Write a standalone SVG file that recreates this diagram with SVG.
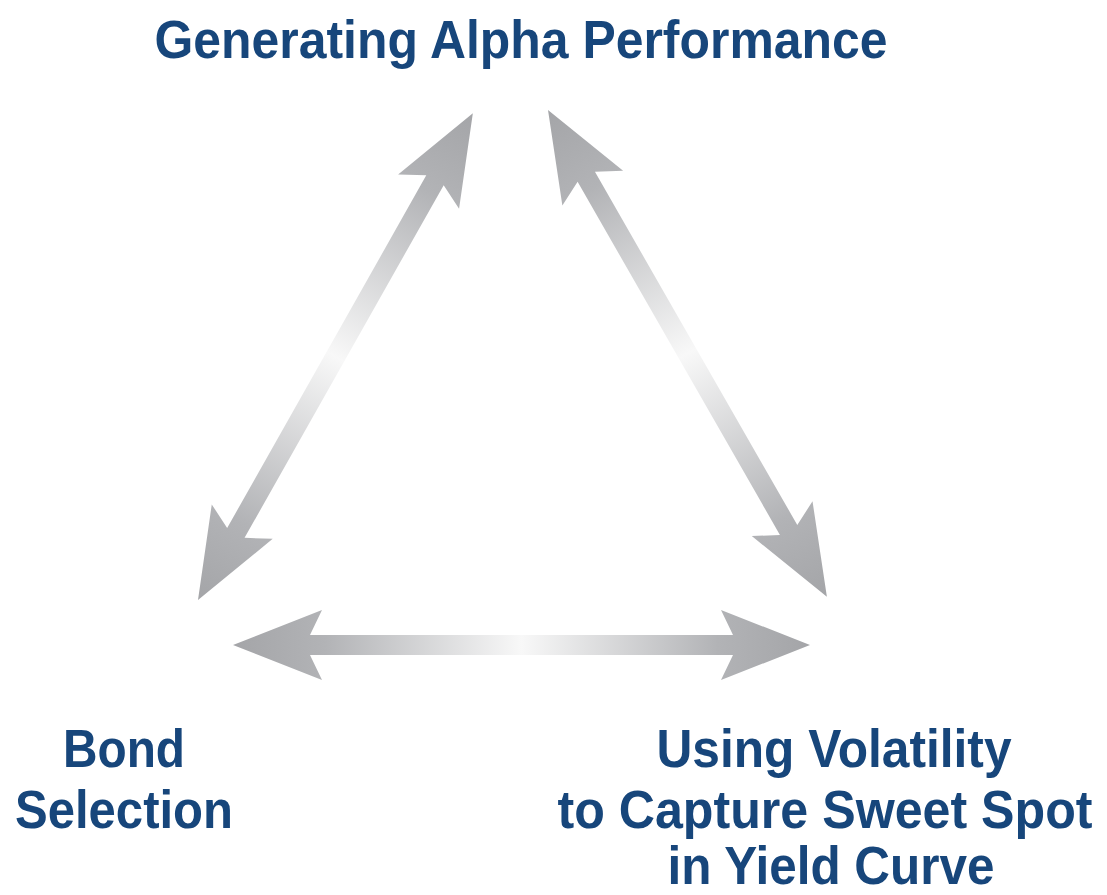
<svg xmlns="http://www.w3.org/2000/svg" width="1107" height="895" viewBox="0 0 1107 895">
  <style>
    .lbl { font-family: "Liberation Sans", Arial, sans-serif; font-weight: bold; font-size: 54px; fill: #17467b; text-anchor: middle; }
    .arw { fill: url(#arrowGrad); }
  </style>
  <defs>
    <linearGradient id="arrowGrad" x1="0" y1="0" x2="1" y2="0">
      <stop offset="0" stop-color="#a4a5a8"/>
      <stop offset="0.16" stop-color="#b2b3b6"/>
      <stop offset="0.5" stop-color="#f8f8f8"/>
      <stop offset="0.84" stop-color="#b2b3b6"/>
      <stop offset="1" stop-color="#a4a5a8"/>
    </linearGradient>
  </defs>
  <rect width="1107" height="895" fill="#ffffff"/>

  <g id="connectors">
    <path id="arrow-left" class="arw" transform="translate(198,600) rotate(-60.55)"
      d="M0,0 L90,-35 L77,-10 L482,-10 L469,-35 L559,0 L469,35 L482,10 L77,10 L90,35 Z"/>
    <path id="arrow-right" class="arw" transform="translate(548,110) rotate(60.19)"
      d="M0,0 L90,-35 L77,-10 L484,-10 L471,-35 L561,0 L471,35 L484,10 L77,10 L90,35 Z"/>
    <path id="arrow-bottom" class="arw" transform="translate(233,645)"
      d="M0,0 L89,-35 L77,-10 L500,-10 L488,-35 L577,0 L488,35 L500,10 L77,10 L89,35 Z"/>
  </g>

  <g id="node-alpha">
    <text class="lbl" x="521" y="58" textLength="733" lengthAdjust="spacingAndGlyphs">Generating Alpha Performance</text>
  </g>

  <g id="node-bond">
    <text class="lbl" x="124" y="767" textLength="122" lengthAdjust="spacingAndGlyphs">Bond</text>
    <text class="lbl" x="124" y="828" textLength="218" lengthAdjust="spacingAndGlyphs">Selection</text>
  </g>

  <g id="node-volatility">
    <text class="lbl" x="834" y="767" textLength="355" lengthAdjust="spacingAndGlyphs">Using Volatility</text>
    <text class="lbl" transform="translate(825,828) scale(0.929,1)" x="0" y="0">to Capture Sweet Spot</text>
    <text class="lbl" x="831" y="884" textLength="327" lengthAdjust="spacingAndGlyphs">in Yield Curve</text>
  </g>
</svg>
